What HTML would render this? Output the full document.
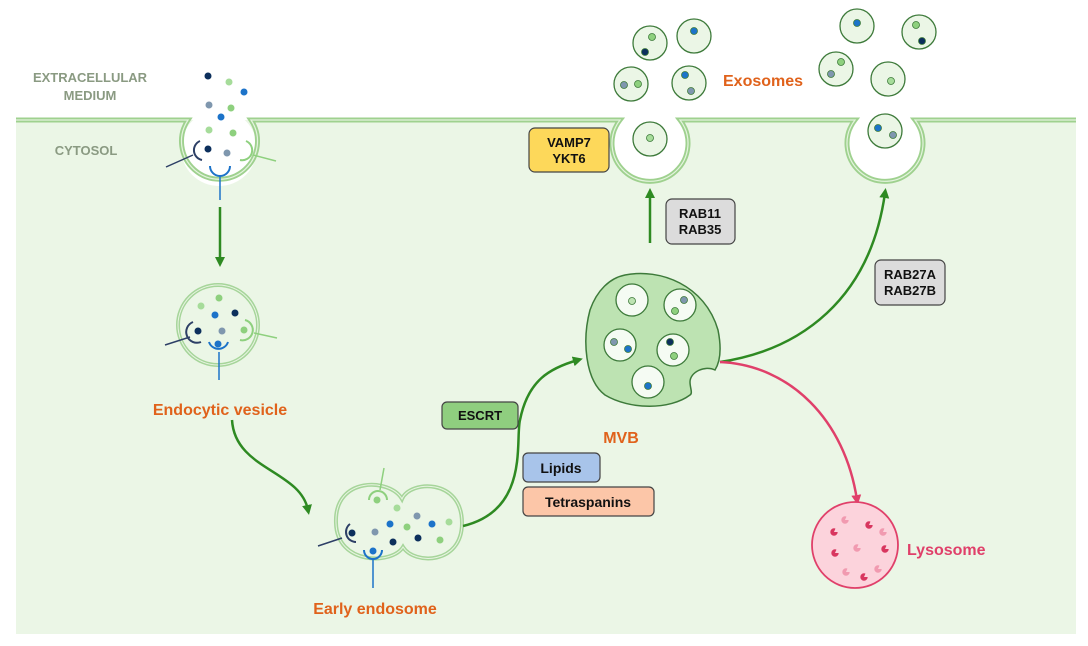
<!DOCTYPE html>
<html><head><meta charset="utf-8"><style>
html,body{margin:0;padding:0;background:#fff;}
svg{display:block;font-family:"Liberation Sans",Arial,sans-serif;}
.b{font-weight:bold;}
</style></head><body>
<svg width="1088" height="646" viewBox="0 0 1088 646" xmlns="http://www.w3.org/2000/svg">
<defs>
<marker id="ag" markerWidth="10" markerHeight="10" refX="5" refY="5" orient="auto" markerUnits="userSpaceOnUse"><path d="M0,0 L10,5 L0,10 Z" fill="#2e8a22"/></marker>
<marker id="ap" markerWidth="10" markerHeight="10" refX="5" refY="5" orient="auto" markerUnits="userSpaceOnUse"><path d="M0,0 L10,5 L0,10 Z" fill="#e0406a"/></marker>
</defs>
<rect x="16" y="120" width="1060" height="514" fill="#ebf6e6"/>
<circle cx="219" cy="148" r="38" fill="#fff"/>
<circle cx="650" cy="145" r="38" fill="#fff"/>
<circle cx="885" cy="145" r="38" fill="#fff"/>
<g fill="none" stroke="#9fd18f" stroke-width="5">
<path d="M16,120 L188,120 A38,38 0 1 0 251,120 L620,120 A38,38 0 1 0 680,120 L855,120 A38,38 0 1 0 915,120 L1076,120"/>
</g>
<g fill="none" stroke="#e4f4de" stroke-width="1.2">
<path d="M16,120 L188,120 A38,38 0 1 0 251,120 L620,120 A38,38 0 1 0 680,120 L855,120 A38,38 0 1 0 915,120 L1076,120"/>
</g>
<text x="90" y="82" font-size="13" fill="#8a9a82" class="b" text-anchor="middle">EXTRACELLULAR</text>
<text x="90" y="100" font-size="13" fill="#8a9a82" class="b" text-anchor="middle">MEDIUM</text>
<text x="86" y="155" font-size="13" fill="#8a9a82" class="b" text-anchor="middle">CYTOSOL</text>

<g>
<circle cx="208" cy="76" r="3.5" fill="#0c2f5c"/><circle cx="229" cy="82" r="3.5" fill="#a6dc9a"/><circle cx="244" cy="92" r="3.5" fill="#1c73c9"/>
<circle cx="209" cy="105" r="3.5" fill="#7f97ae"/><circle cx="231" cy="108" r="3.5" fill="#8ed07e"/><circle cx="221" cy="117" r="3.5" fill="#1c73c9"/>
<circle cx="209" cy="130" r="3.5" fill="#a6dc9a"/><circle cx="233" cy="133" r="3.5" fill="#8ed07e"/><circle cx="208" cy="149" r="3.5" fill="#0c2f5c"/><circle cx="227" cy="153" r="3.5" fill="#7f97ae"/>
<path d="M200,141 A10,10 0 0 0 202,160" fill="none" stroke="#2d3f66" stroke-width="2"/><line x1="193" y1="155" x2="166" y2="167" stroke="#2d3f66" stroke-width="1.5"/>
<path d="M210,166 A10,10 0 0 0 230,166" fill="none" stroke="#1c73c9" stroke-width="2"/><line x1="220" y1="175" x2="220" y2="200" stroke="#1c73c9" stroke-width="1.5"/>
<path d="M246,141 A10,10 0 0 1 240,160" fill="none" stroke="#8ed07e" stroke-width="2"/><line x1="253" y1="155" x2="276" y2="161" stroke="#8ed07e" stroke-width="1.5"/>
</g>
<line x1="220" y1="207" x2="220" y2="262" stroke="#2e8a22" stroke-width="2.5" marker-end="url(#ag)"/>

<circle cx="218" cy="325" r="40" fill="#ebf6e6" stroke="#a6d59a" stroke-width="4"/>
<circle cx="218" cy="325" r="40" fill="none" stroke="#e8f4e2" stroke-width="1"/>
<circle cx="219" cy="298" r="3.5" fill="#8ed07e"/><circle cx="201" cy="306" r="3.5" fill="#a6dc9a"/><circle cx="215" cy="315" r="3.5" fill="#1c73c9"/><circle cx="235" cy="313" r="3.5" fill="#0c2f5c"/>
<circle cx="198" cy="331" r="3.5" fill="#0c2f5c"/><circle cx="222" cy="331" r="3.5" fill="#7f97ae"/><circle cx="244" cy="330" r="3.5" fill="#8ed07e"/><circle cx="218" cy="344" r="3.5" fill="#1c73c9"/>
<path d="M193,322 A10,10 0 0 0 201,342" fill="none" stroke="#2d3f66" stroke-width="2"/><line x1="190" y1="337" x2="165" y2="345" stroke="#2d3f66" stroke-width="1.5"/>
<path d="M209,342 A10,10 0 0 0 228,342" fill="none" stroke="#1c73c9" stroke-width="2"/><line x1="219" y1="352" x2="219" y2="380" stroke="#1c73c9" stroke-width="1.5"/>
<path d="M245,320 A10,10 0 0 1 240,340" fill="none" stroke="#8ed07e" stroke-width="2"/><line x1="254" y1="333" x2="277" y2="338" stroke="#8ed07e" stroke-width="1.5"/>
<text x="220" y="415" font-size="16" fill="#e0621b" class="b" text-anchor="middle">Endocytic vesicle</text>

<path d="M232,420 C235,470 300,470 308,510" fill="none" stroke="#2e8a22" stroke-width="2.5" marker-end="url(#ag)"/>

<g>
<path d="M402,499 C390,478 334,476 336,523 C337,565 392,565 403,547 C414,565 462,565 462,523 C462,478 410,480 402,499 Z" fill="#ebf6e6" stroke="#a6d59a" stroke-width="4"/>
<path d="M402,499 C390,478 334,476 336,523 C337,565 392,565 403,547 C414,565 462,565 462,523 C462,478 410,480 402,499 Z" fill="none" stroke="#e8f4e2" stroke-width="1"/>
</g>
<circle cx="377" cy="500" r="3.5" fill="#8ed07e"/><circle cx="397" cy="508" r="3.5" fill="#a6dc9a"/><circle cx="417" cy="516" r="3.5" fill="#7f97ae"/><circle cx="390" cy="524" r="3.5" fill="#1c73c9"/>
<circle cx="407" cy="527" r="3.5" fill="#8ed07e"/><circle cx="432" cy="524" r="3.5" fill="#1c73c9"/><circle cx="449" cy="522" r="3.5" fill="#a6dc9a"/><circle cx="352" cy="533" r="3.5" fill="#0c2f5c"/>
<circle cx="375" cy="532" r="3.5" fill="#7f97ae"/><circle cx="393" cy="542" r="3.5" fill="#0c2f5c"/><circle cx="418" cy="538" r="3.5" fill="#0c2f5c"/><circle cx="440" cy="540" r="3.5" fill="#8ed07e"/><circle cx="373" cy="551" r="3.5" fill="#1c73c9"/>
<path d="M369,500 A9,9 0 0 1 387,500" fill="none" stroke="#8ed07e" stroke-width="2"/><line x1="380" y1="490" x2="384" y2="468" stroke="#8ed07e" stroke-width="1.5"/>
<path d="M350,524 A10,10 0 0 0 356,542" fill="none" stroke="#2d3f66" stroke-width="2"/><line x1="342" y1="538" x2="318" y2="546" stroke="#2d3f66" stroke-width="1.5"/>
<path d="M364,550 A9,9 0 0 0 382,550" fill="none" stroke="#1c73c9" stroke-width="2"/><line x1="373" y1="559" x2="373" y2="588" stroke="#1c73c9" stroke-width="1.5"/>
<text x="375" y="614" font-size="16" fill="#e0621b" class="b" text-anchor="middle">Early endosome</text>

<path d="M463,526 C530,510 515,440 520,420 C528,380 550,368 578,360" fill="none" stroke="#2e8a22" stroke-width="2.5" marker-end="url(#ag)"/>

<path d="M625,275 C660,268 705,285 718,330 C722,350 720,362 715,370 C705,365 690,372 690,382 C690,388 693,393 690,395 C670,410 630,410 605,395 C585,380 582,340 590,310 C597,290 610,278 625,275 Z" fill="#bde3b2" stroke="#3d7a3a" stroke-width="1.5"/>
<g fill="#f5fbf3" stroke="#3d7a3a" stroke-width="1.3">
<circle cx="632" cy="300" r="16"/><circle cx="680" cy="305" r="16"/><circle cx="620" cy="345" r="16"/><circle cx="673" cy="350" r="16"/><circle cx="648" cy="382" r="16"/>
</g>
<circle cx="632" cy="301" r="3.5" fill="#bde3b2" stroke="#3d7a3a" stroke-width="0.8"/>
<circle cx="684" cy="300" r="3.5" fill="#7f97ae" stroke="#3d7a3a" stroke-width="0.8"/><circle cx="675" cy="311" r="3.5" fill="#8ed07e" stroke="#3d7a3a" stroke-width="0.8"/>
<circle cx="614" cy="342" r="3.5" fill="#7f97ae" stroke="#3d7a3a" stroke-width="0.8"/><circle cx="628" cy="349" r="3.5" fill="#1c73c9" stroke="#3d7a3a" stroke-width="0.8"/>
<circle cx="670" cy="342" r="3.5" fill="#0c2f5c" stroke="#3d7a3a" stroke-width="0.8"/><circle cx="674" cy="356" r="3.5" fill="#8ed07e" stroke="#3d7a3a" stroke-width="0.8"/>
<circle cx="648" cy="386" r="3.5" fill="#1c73c9" stroke="#3d7a3a" stroke-width="0.8"/>
<text x="621" y="443" font-size="16" fill="#e0621b" class="b" text-anchor="middle">MVB</text>

<line x1="650" y1="243" x2="650" y2="193" stroke="#2e8a22" stroke-width="2.5" marker-end="url(#ag)"/>
<path d="M720,362 C800,350 870,300 885,193" fill="none" stroke="#2e8a22" stroke-width="2.5" marker-end="url(#ag)"/>
<path d="M720,362 C790,365 845,420 857,500" fill="none" stroke="#e0406a" stroke-width="2.5" marker-end="url(#ap)"/>

<circle cx="855" cy="545" r="43" fill="#fcd3dc" stroke="#e0406a" stroke-width="1.8"/>
<g fill="none" stroke="#d8365f" stroke-width="3.6" stroke-dasharray="9.5 3.1">
<circle cx="869" cy="525" r="1.9"/><circle cx="834" cy="532" r="1.9"/><circle cx="885" cy="549" r="1.9"/><circle cx="835" cy="553" r="1.9"/><circle cx="864" cy="577" r="1.9"/>
</g>
<g fill="none" stroke="#f19ab0" stroke-width="3.6" stroke-dasharray="9.5 3.1">
<circle cx="845" cy="520" r="1.9"/><circle cx="883" cy="532" r="1.9"/><circle cx="857" cy="548" r="1.9"/><circle cx="846" cy="572" r="1.9"/><circle cx="878" cy="569" r="1.9"/>
</g>
<text x="907" y="555" font-size="16" fill="#e0406a" class="b">Lysosome</text>

<g fill="#ebf6e6" stroke="#3d7a3a" stroke-width="1.3">
<circle cx="650" cy="139" r="17"/><circle cx="885" cy="131" r="17"/>
<circle cx="650" cy="43" r="17"/><circle cx="694" cy="36" r="17"/><circle cx="631" cy="84" r="17"/><circle cx="689" cy="83" r="17"/>
<circle cx="857" cy="26" r="17"/><circle cx="919" cy="32" r="17"/><circle cx="836" cy="69" r="17"/><circle cx="888" cy="79" r="17"/>
</g>
<g stroke="#3d7a3a" stroke-width="0.8">
<circle cx="650" cy="138" r="3.5" fill="#a6dc9a"/>
<circle cx="878" cy="128" r="3.5" fill="#1c73c9"/><circle cx="893" cy="135" r="3.5" fill="#7f97ae"/>
<circle cx="652" cy="37" r="3.5" fill="#8ed07e"/><circle cx="645" cy="52" r="3.5" fill="#0c2f5c"/>
<circle cx="694" cy="31" r="3.5" fill="#1c73c9"/>
<circle cx="624" cy="85" r="3.5" fill="#7f97ae"/><circle cx="638" cy="84" r="3.5" fill="#8ed07e"/>
<circle cx="685" cy="75" r="3.5" fill="#1c73c9"/><circle cx="691" cy="91" r="3.5" fill="#7f97ae"/>
<circle cx="857" cy="23" r="3.5" fill="#1c73c9"/>
<circle cx="916" cy="25" r="3.5" fill="#8ed07e"/><circle cx="922" cy="41" r="3.5" fill="#0c2f5c"/>
<circle cx="841" cy="62" r="3.5" fill="#8ed07e"/><circle cx="831" cy="74" r="3.5" fill="#7f97ae"/>
<circle cx="891" cy="81" r="3.5" fill="#a6dc9a"/>
</g>
<text x="723" y="86" font-size="16" fill="#e0621b" class="b">Exosomes</text>

<g stroke="#444" stroke-width="1.2">
<rect x="529" y="128" width="80" height="44" rx="6" fill="#fdd85a"/>
<rect x="666" y="199" width="69" height="45" rx="6" fill="#dcdcdc"/>
<rect x="875" y="260" width="70" height="45" rx="6" fill="#dcdcdc"/>
<rect x="442" y="402" width="76" height="27" rx="5" fill="#8fce7f"/>
<rect x="523" y="453" width="77" height="29" rx="5" fill="#a8c4ea"/>
<rect x="523" y="487" width="131" height="29" rx="5" fill="#fcc6a8"/>
</g>
<g font-size="13" class="b" fill="#111" text-anchor="middle">
<text x="569" y="147">VAMP7</text><text x="569" y="163">YKT6</text>
<text x="700" y="218">RAB11</text><text x="700" y="234">RAB35</text>
<text x="910" y="279">RAB27A</text><text x="910" y="295">RAB27B</text>
<text x="480" y="420">ESCRT</text>
<text x="561" y="473" font-size="14">Lipids</text>
<text x="588" y="507" font-size="14">Tetraspanins</text>
</g>
</svg>
</body></html>
